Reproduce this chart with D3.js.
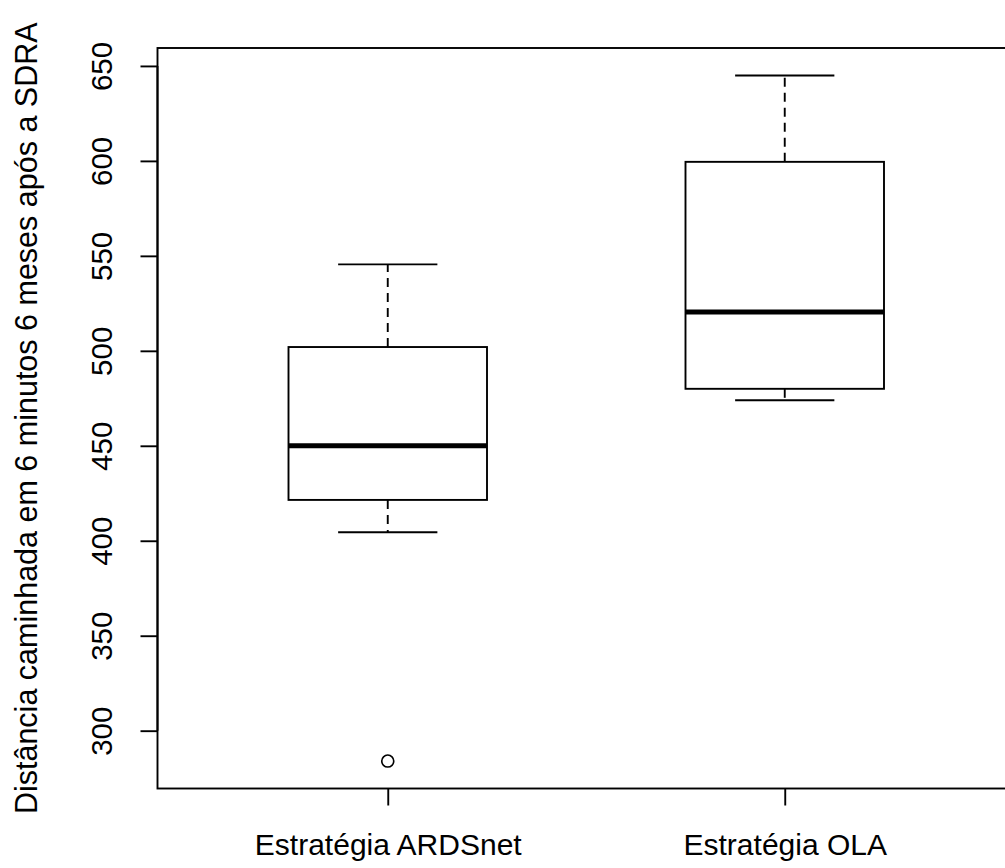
<!DOCTYPE html>
<html>
<head>
<meta charset="utf-8">
<script src="https://cdn.jsdelivr.net/npm/d3@7"></script>
<style>
  body { margin: 0; background: #fff; }
  svg text { font-family: "Liberation Sans", Arial, sans-serif; fill: #000; }
</style>
</head>
<body>
<div id="chart"></div>
<script>
// groups and box stats
const groups = ["Estratégia ARDSnet", "Estratégia OLA"]
const lowerWhisker = [404.5, 474]
const q1 = [421.5, 480]
const median = [450, 520.5]
const q3 = [502, 599.5]
const upperWhisker = [545.5, 645]
const outliers = [[284], []]
const yTicks = [300, 350, 400, 450, 500, 550, 600, 650]
const yTitle = "Distância caminhada em 6 minutos 6 meses após a SDRA"

const W = 1005, H = 868
const plot = { left: 157.5, right: 1015, top: 48, bottom: 788.5 }

const svg = d3.select('#chart')
    .append('svg')
    .attr('width', W)
    .attr('height', H)

// R style 4% extension of the ranges
const allVals = lowerWhisker.concat(upperWhisker, outliers.flat())
const lo = d3.min(allVals), hi = d3.max(allVals)
const pad = (hi - lo) * 0.04
const y = d3.scaleLinear()
    .domain([lo - pad, hi + pad])
    .range([plot.bottom, plot.top])
const x = d3.scaleLinear()
    .domain([0.5 - 0.08, groups.length + 0.5 + 0.08])
    .range([plot.left, plot.right])

const lw = 1.9
const boxHalf = 0.25

// boxes
groups.forEach((g, i) => {
    const cx = x(i + 1)
    const bx0 = x(i + 1 - boxHalf), bx1 = x(i + 1 + boxHalf)
    const cx0 = x(i + 1 - boxHalf / 2), cx1 = x(i + 1 + boxHalf / 2)
    const grp = svg.append('g')

    // whiskers (dashed)
    grp.append('line')
        .attr('x1', cx).attr('x2', cx)
        .attr('y1', y(q3[i])).attr('y2', y(upperWhisker[i]))
        .attr('stroke', '#000').attr('stroke-width', lw)
        .attr('stroke-dasharray', '9,6')
    grp.append('line')
        .attr('x1', cx).attr('x2', cx)
        .attr('y1', y(q1[i])).attr('y2', y(lowerWhisker[i]))
        .attr('stroke', '#000').attr('stroke-width', lw)
        .attr('stroke-dasharray', '9,6')

    // caps
    ;[upperWhisker[i], lowerWhisker[i]].forEach(v => {
        grp.append('line')
            .attr('x1', cx0).attr('x2', cx1)
            .attr('y1', y(v)).attr('y2', y(v))
            .attr('stroke', '#000').attr('stroke-width', lw)
    })

    // box
    grp.append('rect')
        .attr('x', bx0)
        .attr('y', y(q3[i]))
        .attr('width', bx1 - bx0)
        .attr('height', y(q1[i]) - y(q3[i]))
        .attr('fill', 'none')
        .attr('stroke', '#000').attr('stroke-width', lw)

    // median
    grp.append('line')
        .attr('x1', bx0).attr('x2', bx1)
        .attr('y1', y(median[i])).attr('y2', y(median[i]))
        .attr('stroke', '#000').attr('stroke-width', 5)

    // outliers
    grp.selectAll('circle')
        .data(outliers[i])
        .enter()
        .append('circle')
        .attr('cx', cx)
        .attr('cy', d => y(d))
        .attr('r', 6)
        .attr('fill', 'none')
        .attr('stroke', '#000')
        .attr('stroke-width', 1.6)
})

// plot frame
svg.append('rect')
    .attr('x', plot.left)
    .attr('y', plot.top)
    .attr('width', plot.right - plot.left)
    .attr('height', plot.bottom - plot.top)
    .attr('fill', 'none')
    .attr('stroke', '#000')
    .attr('stroke-width', lw)

// y axis
const yAxis = svg.append('g')
    .attr('transform', `translate(${plot.left},0)`)
    .call(d3.axisLeft(y).tickValues(yTicks).tickSize(17).tickSizeOuter(0).tickPadding(0))
yAxis.select('.domain')
    .attr('d', `M0,${y(yTicks[0])}V${y(yTicks[yTicks.length - 1])}`)
    .attr('stroke', '#000').attr('stroke-width', lw)
yAxis.selectAll('.tick line').attr('stroke', '#000').attr('stroke-width', lw)
yAxis.selectAll('.tick text')
    .attr('x', null).attr('dy', null)
    .attr('transform', 'translate(-45.5,0) rotate(-90)')
    .attr('text-anchor', 'middle')
    .style('font-size', '29.5px')
    .style('font-family', '"Liberation Sans", Arial, sans-serif')

// x axis
const xAxis = svg.append('g')
    .attr('transform', `translate(0,${plot.bottom})`)
    .call(d3.axisBottom(x).tickValues(groups.map((g, i) => i + 1))
        .tickFormat((d, i) => groups[i]).tickSize(17).tickSizeOuter(0).tickPadding(0))
xAxis.select('.domain').remove()
xAxis.selectAll('.tick line').attr('stroke', '#000').attr('stroke-width', lw)
xAxis.selectAll('.tick text')
    .attr('y', 66).attr('dy', null)
    .style('font-size', '30px')
    .style('font-family', '"Liberation Sans", Arial, sans-serif')

// y title
svg.append('text')
    .attr('transform', `translate(37,${(plot.top + plot.bottom) / 2}) rotate(-90)`)
    .attr('text-anchor', 'middle')
    .style('font-size', '30.5px')
    .text(yTitle)
</script>
</body>
</html>
